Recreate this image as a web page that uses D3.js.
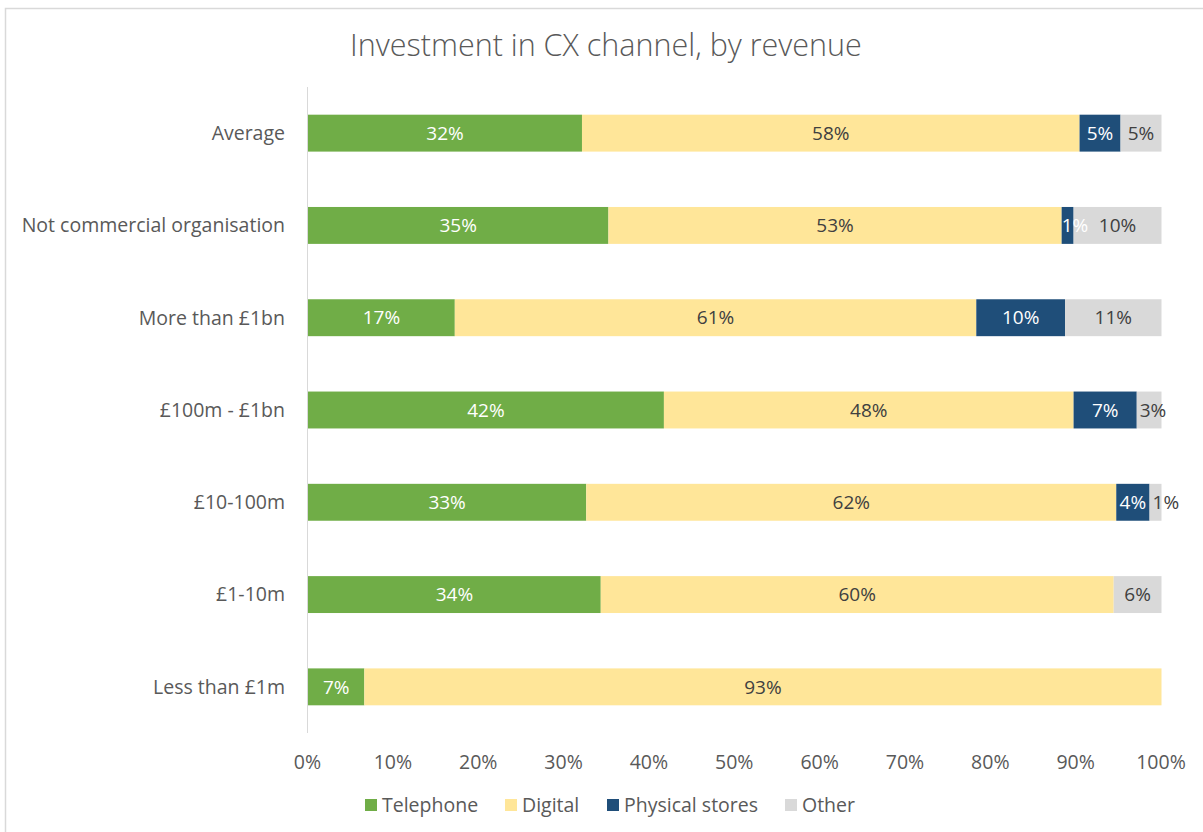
<!DOCTYPE html>
<html>
<head>
<meta charset="utf-8">
<script src="https://cdn.jsdelivr.net/npm/d3@7"></script>
<style>
body { margin: 0; background: #fff; }
svg text { font-family: "Open Sans", "Noto Sans", sans-serif; }
</style>
</head>
<body>
<div id="vis"></div>
<script>
var width = 1203,
	height = 832;

// data (percent of investment)
var categories = ["Average", "Not commercial organisation", "More than £1bn", "£100m - £1bn", "£10-100m", "£1-10m", "Less than £1m"];
var seriesNames = ["Telephone", "Digital", "Physical stores", "Other"];
var telephone = [32.1, 35.2, 17.2, 41.7, 32.6, 34.3, 6.6];
var digital   = [58.3, 53.1, 61.1, 48.0, 62.1, 60.1, 93.4];
var physical  = [4.8, 1.4, 10.4, 7.4, 3.9, 0, 0];
var other     = [4.8, 10.3, 11.3, 2.9, 1.4, 5.6, 0];
var ticks = [0, 10, 20, 30, 40, 50, 60, 70, 80, 90, 100];

var colors = ["#70ad47", "#ffe699", "#1f4e79", "#d9d9d9"];
var labelColors = ["#ffffff", "#404040", "#ffffff", "#404040"];

var rows = categories.map(function(c, i) {
	return { cat: c, Telephone: telephone[i], Digital: digital[i], "Physical stores": physical[i], Other: other[i] };
});

var svg = d3.select('#vis')
	.append('svg')
	.attr('width', width)
	.attr('height', height);

// chart area border (left and top only visible)
svg.append('path')
	.attr('d', 'M5.5,' + height + 'V8.5H' + width)
	.attr('fill', 'none')
	.attr('stroke', '#d9d9d9')
	.attr('stroke-width', 1.5);

svg.append('text')
	.attr('x', 606)
	.attr('y', 56)
	.attr('text-anchor', 'middle')
	.style('font-size', '30.5px')
	.style('font-weight', '300')
	.style('fill', '#595959')
	.text("Investment in CX channel, by revenue");

var x = d3.scaleLinear().domain([0, 100]).range([308, 1161.5]);
var y = d3.scaleBand().domain(categories).range([87, 733]).paddingInner(0.6).paddingOuter(0.3);

var stack = d3.stack().keys(seriesNames)(rows);

var layers = svg.selectAll('g.layer')
	.data(stack)
	.enter()
	.append('g')
	.attr('class', 'layer')
	.style('fill', function(d, i) { return colors[i]; });

layers.selectAll('rect')
	.data(function(d) { return d; })
	.enter()
	.append('rect')
	.filter(function(d) { return d[1] - d[0] > 0; })
	.attr('x', function(d) { return x(d[0]); })
	.attr('y', function(d) { return y(d.data.cat); })
	.attr('width', function(d) { return x(d[1]) - x(d[0]); })
	.attr('height', y.bandwidth());

// value labels; narrow segments push their label to the right like Excel does
stack.forEach(function(layer, i) {
	var pad = i == 3 ? 3 : 0;
	svg.append('g').selectAll('text')
		.data(layer.filter(function(d) { return d[1] - d[0] > 0; }))
		.enter()
		.append('text')
		.attr('y', function(d) { return y(d.data.cat) + y.bandwidth() / 2; })
		.attr('dy', '0.35em')
		.attr('text-anchor', 'middle')
		.style('font-size', '19px')
		.style('fill', labelColors[i])
		.text(function(d) { return Math.round(d[1] - d[0]) + "%"; })
		.attr('x', function(d) {
			var mid = (x(d[0]) + x(d[1])) / 2;
			var w = this.getComputedTextLength();
			return Math.max(mid, x(d[0]) + w / 2 + pad);
		});
});

// vertical axis line + category labels
svg.append('line')
	.attr('x1', 307.5).attr('x2', 307.5)
	.attr('y1', 87).attr('y2', 733)
	.attr('stroke', '#d9d9d9')
	.attr('stroke-width', 1);

svg.append('g').selectAll('text')
	.data(categories)
	.enter()
	.append('text')
	.attr('x', 285)
	.attr('y', function(d) { return y(d) + y.bandwidth() / 2; })
	.attr('dy', '0.35em')
	.attr('text-anchor', 'end')
	.style('font-size', '19.5px')
	.style('fill', '#595959')
	.text(function(d) { return d; });

// x tick labels
svg.append('g').selectAll('text')
	.data(ticks)
	.enter()
	.append('text')
	.attr('x', function(d) { return x(d) - 0.5; })
	.attr('y', 762)
	.attr('dy', '0.35em')
	.attr('text-anchor', 'middle')
	.style('font-size', '19.5px')
	.style('fill', '#595959')
	.text(function(d) { return d + "%"; });

// legend
var legendX = [365, 505, 607, 785];
var legend = svg.append('g').selectAll('g')
	.data(seriesNames)
	.enter()
	.append('g')
	.attr('transform', function(d, i) { return 'translate(' + legendX[i] + ',805)'; });

legend.append('rect')
	.attr('x', 0).attr('y', -6)
	.attr('width', 12).attr('height', 12)
	.style('fill', function(d, i) { return colors[i]; });

legend.append('text')
	.attr('x', 17)
	.attr('dy', '0.35em')
	.style('font-size', '19.5px')
	.style('fill', '#595959')
	.text(function(d) { return d; });
</script>
</body>
</html>
